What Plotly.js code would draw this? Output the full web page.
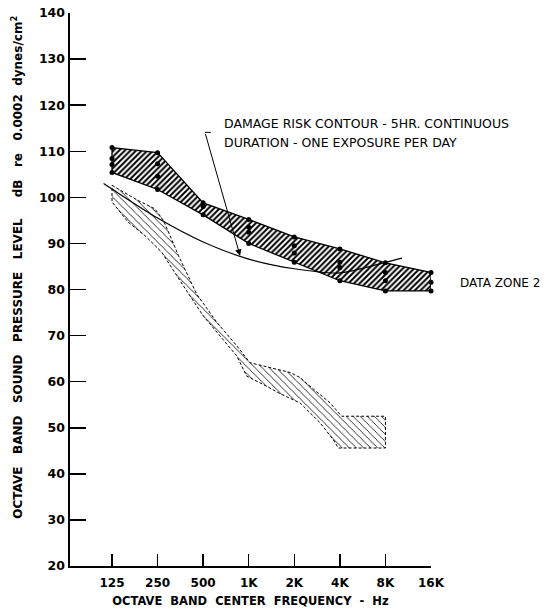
<!DOCTYPE html>
<html>
<head>
<meta charset="utf-8">
<script src="https://cdn.plot.ly/plotly-3.0.1.min.js"></script>
<style>html,body{margin:0;padding:0;background:#fff;}#chart{width:554px;height:616px;}</style>
</head>
<body>
<div id="chart"></div>
<script>
// Octave band centre frequencies (Hz) and tick labels
const bandFreqs = [125, 250, 500, 1000, 2000, 4000, 8000, 16000];
const bandLabels = ["125", "250", "500", "1K", "2K", "4K", "8K", "16K"];
const yTicks = [20, 30, 40, 50, 60, 70, 80, 90, 100, 110, 120, 130, 140];

// Data Zone 2: measured points at each octave band (dB)
const zone2At125 = [110.8, 108.4, 107.1, 105.4];
const zone2At250 = [109.7, 107.3, 104.6, 101.7];
const zone2At500 = [98.8, 98.0, 96.2];
const zone2At1K = [95.2, 93.5, 92.4, 90.0];
const zone2At2K = [91.4, 89.5, 87.9, 85.9];
const zone2At4K = [88.8, 85.9, 84.8, 81.9];
const zone2At8K = [85.8, 83.7, 81.9, 79.7];
const zone2At16K = [83.7, 81.6, 79.7];

// Lower (dashed) data zone outline
const zone1UpperFreq = [125, 186, 240, 273, 302, 343, 453, 615, 833, 1020, 1874, 2182, 2541, 3445, 4110, 8000];
const zone1UpperLevel = [102.6, 99.3, 97.5, 95.0, 91.7, 87.4, 79.0, 72.9, 67.8, 64.1, 62.0, 60.9, 59.0, 55.4, 52.5, 52.5];
const zone1LowerFreq = [125, 160, 206, 266, 326, 370, 500, 678, 833, 970, 1315, 1610, 2182, 2958, 3621, 3908, 8000];
const zone1LowerLevel = [99.0, 94.6, 91.7, 88.1, 83.7, 80.8, 74.3, 69.2, 65.6, 61.2, 59.0, 57.4, 55.4, 51.1, 47.4, 45.6, 45.6];

// Damage risk contour - 5 hr continuous duration
const contourFreq = [110, 125, 250, 500, 1000, 2000, 4000, 8000, 10300];
const contourLevel = [103.0, 101.8, 95.5, 90.3, 86.6, 84.5, 83.6, 85.9, 86.8];

// Leader for the contour label: short bar, corner, arrow head
const leaderBarFreq = [562, 514];
const leaderBarLevel = [114.1, 114.1];
const arrowHeadFreq = 877;
const arrowHeadLevel = 87.3;

const zone2Sets = [zone2At125, zone2At250, zone2At500, zone2At1K, zone2At2K, zone2At4K, zone2At8K, zone2At16K];
const zone2Top = zone2Sets.map(a => Math.max(...a));
const zone2Bottom = zone2Sets.map(a => Math.min(...a));

const ptsX = [], ptsY = [];
zone2Sets.forEach((a, i) => a.forEach(v => { ptsX.push(bandFreqs[i]); ptsY.push(v); }));

const FONT = "DejaVu Sans, Arial, sans-serif";
const NB = '\u00A0';

const traces = [
  {
    x: bandFreqs.concat(bandFreqs.slice().reverse(), [bandFreqs[0]]),
    y: zone2Top.concat(zone2Bottom.slice().reverse(), [zone2Top[0]]),
    mode: 'lines', fill: 'toself', fillcolor: 'white',
    fillpattern: {shape: '/', fgcolor: 'black', bgcolor: 'white', size: 4, solidity: 0.5},
    line: {color: 'black', width: 1.3}, hoverinfo: 'skip', cliponaxis: false
  },
  {
    x: zone1UpperFreq.concat(zone1LowerFreq.slice().reverse(), [zone1UpperFreq[0]]),
    y: zone1UpperLevel.concat(zone1LowerLevel.slice().reverse(), [zone1UpperLevel[0]]),
    mode: 'lines', fill: 'toself', fillcolor: 'white',
    fillpattern: {shape: '\\', fgcolor: 'black', bgcolor: 'white', size: 5, solidity: 0.16},
    line: {color: 'black', width: 1, dash: '3px,2px'}, hoverinfo: 'skip'
  },
  {
    x: contourFreq, y: contourLevel, mode: 'lines',
    line: {color: 'black', width: 1.2, shape: 'spline', smoothing: 0.8}, hoverinfo: 'skip'
  },
  {
    x: ptsX, y: ptsY, mode: 'markers',
    marker: {color: 'black', size: 5}, hoverinfo: 'skip', cliponaxis: false
  },
  {
    x: leaderBarFreq, y: leaderBarLevel, mode: 'lines',
    line: {color: 'black', width: 1}, hoverinfo: 'skip'
  }
];

const layout = {
  width: 554, height: 616,
  margin: {l: 70, r: 123, t: 13, b: 50},
  paper_bgcolor: 'white', plot_bgcolor: 'white',
  showlegend: false,
  font: {family: FONT, color: 'black', size: 12},
  xaxis: {
    type: 'log',
    range: [1.81936, 4.20412],
    tickvals: bandFreqs, ticktext: bandLabels,
    ticks: 'inside', ticklen: 12, tickwidth: 1.5, tickcolor: 'black',
    ticklabelstandoff: 5,
    showline: true, linecolor: 'black', linewidth: 2,
    showgrid: false, zeroline: false,
    tickfont: {family: FONT, size: 12, color: 'black', weight: 'bold'},
    title: {text: 'OCTAVE' + NB + ' BAND' + NB + ' CENTER' + NB + ' FREQUENCY' + NB + ' -' + NB + ' Hz',
            font: {family: FONT, size: 11.5, weight: 'bold'}, standoff: 8}
  },
  yaxis: {
    range: [20, 140],
    tickvals: yTicks,
    ticks: 'inside', ticklen: 16, tickwidth: 1.5, tickcolor: 'black',
    showline: true, linecolor: 'black', linewidth: 2.5,
    showgrid: false, zeroline: false,
    tickfont: {family: FONT, size: 12.5, color: 'black', weight: 'bold'}
  },
  annotations: [
    {xref: 'paper', yref: 'paper', x: -0.147, y: 0.541, textangle: -90, showarrow: false,
     xanchor: 'center', yanchor: 'middle',
     text: 'OCTAVE' + NB + NB + ' BAND' + NB + NB + ' SOUND' + NB + NB + ' PRESSURE' + NB + NB + ' LEVEL' + NB + NB + NB + NB +
           ' dB' + NB + NB + ' re' + NB + NB + ' 0.0002' + NB + ' dynes/cm<sup>2</sup>',
     font: {family: FONT, size: 12, weight: 'bold', color: 'black'}},
    {xref: 'x', yref: 'y', x: 2.8236, y: 116.0, xanchor: 'left', yanchor: 'middle', showarrow: false,
     text: 'DAMAGE RISK CONTOUR - 5HR. CONTINUOUS', font: {family: FONT, size: 12.5, color: 'black'}},
    {xref: 'x', yref: 'y', x: 2.8236, y: 111.9, xanchor: 'left', yanchor: 'middle', showarrow: false,
     text: 'DURATION - ONE EXPOSURE PER DAY', font: {family: FONT, size: 12.5, color: 'black'}},
    {xref: 'paper', yref: 'y', x: 1.0748, y: 81.4, xanchor: 'left', yanchor: 'middle', showarrow: false,
     text: 'DATA ZONE 2', font: {family: FONT, size: 12, color: 'black'}},
    {xref: 'x', yref: 'y', axref: 'x', ayref: 'y',
     x: Math.log10(arrowHeadFreq), y: arrowHeadLevel,
     ax: Math.log10(leaderBarFreq[1]), ay: leaderBarLevel[1],
     text: '', showarrow: true, arrowhead: 2, arrowsize: 1.3, arrowwidth: 1, arrowcolor: 'black'}
  ]
};

Plotly.newPlot('chart', traces, layout, {displayModeBar: false, staticPlot: true});
</script>
</body>
</html>
